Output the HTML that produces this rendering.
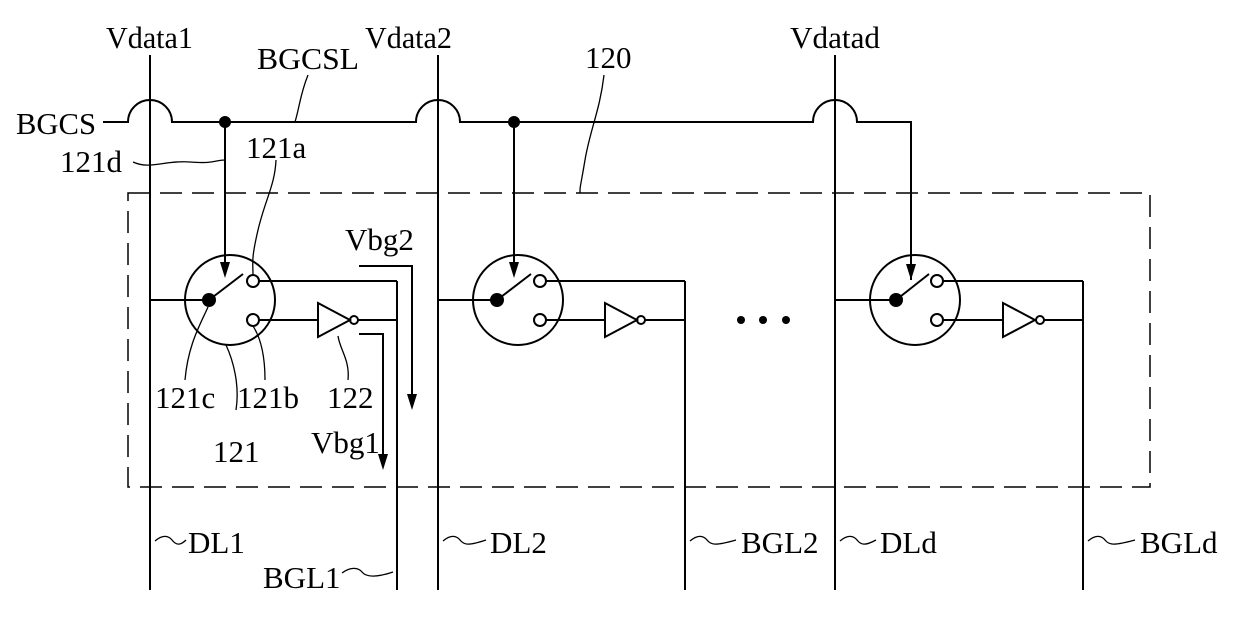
<!DOCTYPE html>
<html><head><meta charset="utf-8"><style>
html,body{margin:0;padding:0;background:#fff;}
svg{display:block;}
text{font-family:"Liberation Serif",serif;font-size:31px;fill:#000;}
</style></head><body>
<svg width="1240" height="625" viewBox="0 0 1240 625" xmlns="http://www.w3.org/2000/svg">
<g stroke="#000" fill="none" stroke-width="2">
<line x1="150" y1="55" x2="150" y2="590"/>
<line x1="438" y1="55" x2="438" y2="590"/>
<line x1="835" y1="55" x2="835" y2="590"/>
<line x1="397" y1="281" x2="397" y2="590"/>
<line x1="685" y1="281" x2="685" y2="590"/>
<line x1="1083" y1="281" x2="1083" y2="590"/>
<path d="M103,122 H128 A22,22 0 0 1 172,122 H416 A22,22 0 0 1 460,122 H813 A22,22 0 0 1 857,122 H911 V280"/>
<line x1="225" y1="122" x2="225" y2="263"/>
<line x1="514" y1="122" x2="514" y2="263"/>
<rect x="128" y="193" width="1022" height="294" stroke-dasharray="22,10" stroke-width="1.5"/>
<circle cx="230" cy="300" r="45"/>
<line x1="150" y1="300" x2="209" y2="300"/>
<line x1="209" y1="300" x2="243" y2="274"/>
<circle cx="253" cy="281" r="6" fill="#fff"/>
<circle cx="253" cy="320" r="6" fill="#fff"/>
<path d="M259,281 H397"/>
<path d="M259,320 H318"/>
<path d="M318,303 L350,320 L318,337 Z"/>
<circle cx="354" cy="320" r="4"/>
<line x1="358" y1="320" x2="397" y2="320"/>
<circle cx="518" cy="300" r="45"/>
<line x1="438" y1="300" x2="497" y2="300"/>
<line x1="497" y1="300" x2="531" y2="274"/>
<circle cx="540" cy="281" r="6" fill="#fff"/>
<circle cx="540" cy="320" r="6" fill="#fff"/>
<path d="M546,281 H685"/>
<path d="M546,320 H605"/>
<path d="M605,303 L637,320 L605,337 Z"/>
<circle cx="641" cy="320" r="4"/>
<line x1="645" y1="320" x2="685" y2="320"/>
<circle cx="915" cy="300" r="45"/>
<line x1="835" y1="300" x2="896" y2="300"/>
<line x1="896" y1="300" x2="929" y2="274"/>
<circle cx="937" cy="281" r="6" fill="#fff"/>
<circle cx="937" cy="320" r="6" fill="#fff"/>
<path d="M943,281 H1083"/>
<path d="M943,320 H1003"/>
<path d="M1003,303 L1035,320 L1003,337 Z"/>
<circle cx="1040" cy="320" r="4"/>
<line x1="1044" y1="320" x2="1083" y2="320"/>
<path d="M359,266 H412 V395"/>
<path d="M359,334 H383 V455"/>
<g stroke-width="1.3">
<path d="M133,162 C150,170 165,160 190,162 S215,160 225,160"/>
<path d="M276,160 C275,185 265,200 258,230 S253,262 253,275"/>
<path d="M308,75 C300,95 300,105 295,122"/>
<path d="M604,75 C600,110 590,130 585,160 S580,185 580,193"/>
<path d="M208,307 C200,325 188,345 185,380"/>
<path d="M226,345 C233,360 240,385 236,410"/>
<path d="M253,326 C262,340 265,360 265,380"/>
<path d="M338,336 C340,350 350,360 348,380"/>
<path d="M155,541 C162,535 168,535 172,540 S180,546 186,540"/>
<path d="M342,573 C350,567 358,567 362,572 S375,578 393,572"/>
<path d="M443,541 C450,535 456,535 460,540 S468,546 486,540"/>
<path d="M690,541 C697,535 703,535 707,540 S715,546 736,540"/>
<path d="M840,541 C847,535 853,535 857,540 S865,546 876,540"/>
<path d="M1088,541 C1095,535 1101,535 1105,540 S1113,546 1135,540"/>
</g>
</g>
<g fill="#000">
<circle cx="225" cy="122" r="6"/>
<circle cx="514" cy="122" r="6"/>
<circle cx="209" cy="300" r="7"/>
<circle cx="497" cy="300" r="7"/>
<circle cx="896" cy="300" r="7"/>
<circle cx="741" cy="320" r="4"/>
<circle cx="763" cy="320" r="4"/>
<circle cx="786" cy="320" r="4"/>
<path d="M220,262 L230,262 L225,278 Z"/>
<path d="M509,262 L519,262 L514,278 Z"/>
<path d="M906,264 L916,264 L911,280 Z"/>
<path d="M407,394 L417,394 L412,410 Z"/>
<path d="M378,454 L388,454 L383,470 Z"/>
</g>
<text x="106" y="48" textLength="87" lengthAdjust="spacingAndGlyphs">Vdata1</text>
<text x="365" y="48" textLength="87" lengthAdjust="spacingAndGlyphs">Vdata2</text>
<text x="790" y="48" textLength="90" lengthAdjust="spacingAndGlyphs">Vdatad</text>
<text x="257" y="69" textLength="102" lengthAdjust="spacingAndGlyphs">BGCSL</text>
<text x="585" y="68">120</text>
<text x="16" y="134" textLength="80" lengthAdjust="spacingAndGlyphs">BGCS</text>
<text x="60" y="172">121d</text>
<text x="246" y="158">121a</text>
<text x="345" y="250">Vbg2</text>
<text x="155" y="408">121c</text>
<text x="237" y="408">121b</text>
<text x="327" y="408">122</text>
<text x="213" y="462">121</text>
<text x="311" y="453">Vbg1</text>
<text x="188" y="553">DL1</text>
<text x="263" y="588">BGL1</text>
<text x="490" y="553">DL2</text>
<text x="741" y="553">BGL2</text>
<text x="880" y="553">DLd</text>
<text x="1140" y="553">BGLd</text>
</svg>
</body></html>
